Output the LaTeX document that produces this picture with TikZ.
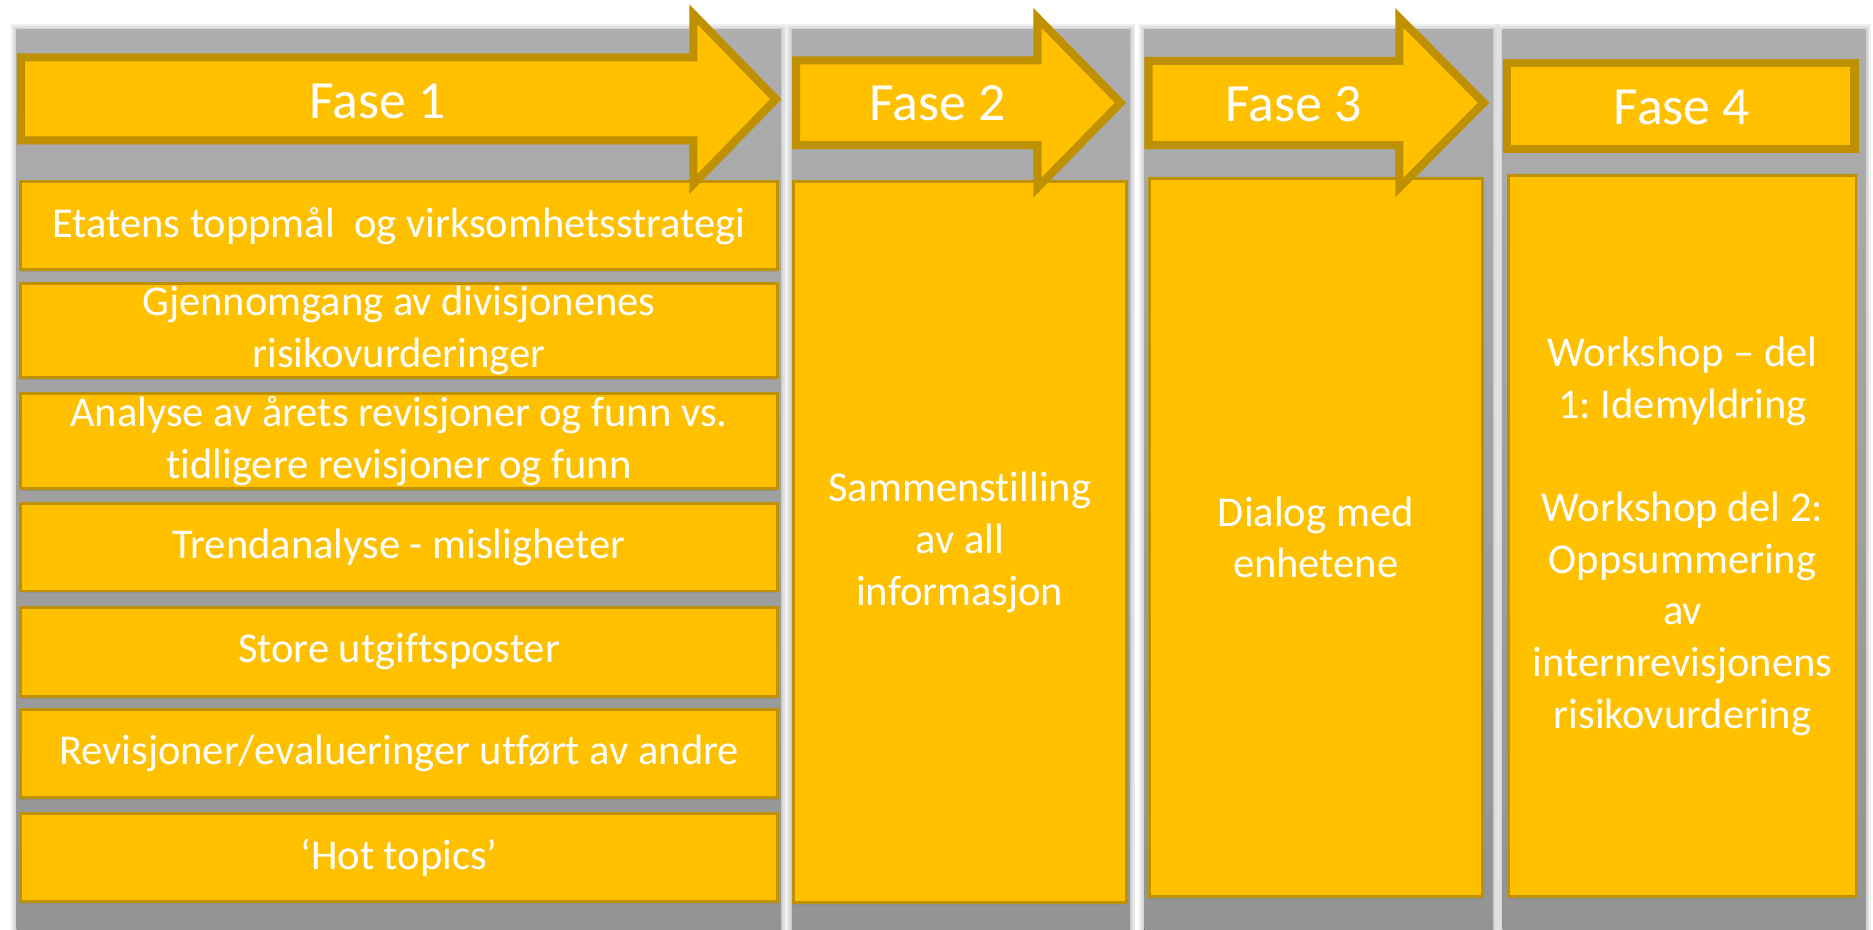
\documentclass[tikz,border=0pt]{standalone}
\usepackage{fontspec}
\setmainfont{Carlito}[Ligatures=NoCommon]
\usetikzlibrary{shadows}
\definecolor{gold}{HTML}{FFC000}
\definecolor{goldline}{HTML}{BF9000}
\definecolor{graytop}{HTML}{AEAEAE}
\definecolor{graybot}{HTML}{939393}
\frenchspacing
\begin{document}
\begin{tikzpicture}[x=0.5pt,y=-0.5pt,
  colbg/.style={top color=graytop,bottom color=graybot,draw=none},
  colshadow/.style={fill=black,fill opacity=0.06,draw=none},
  phasearrow/.style={fill=gold,draw=goldline,line width=3.4pt,line join=miter},
  phaselabel/.style={text=white,font=\fontsize{22.5pt}{27pt}\selectfont,anchor=base,inner sep=0pt},
  itembox/.style={rectangle,fill=gold,draw=goldline,line width=1.2pt,text=white,align=center,
    font=\fontsize{17.8pt}{21.6pt}\selectfont\frenchspacing,inner sep=0pt,
    drop shadow={shadow xshift=0pt,shadow yshift=-1pt,opacity=0.35}},
]
\useasboundingbox (0,0) rectangle (1568,778.5);
\fill[white] (0,0) rectangle (1568,778.5);
% column shadows
\foreach \xa/\xb in {14/654,663/946,958/1250,1258/1562}{
  \foreach \d in {1.5,3,4.5}{
    \fill[colshadow] (\xa-\d,25-\d) rectangle (\xb+\d,780);
  }
}
% gray columns
\fill[colbg] (14,25) rectangle (654,780);
\fill[colbg] (663,25) rectangle (946,780);
\fill[colbg] (958,25) rectangle (1250,780);
\fill[colbg] (1258,25) rectangle (1562,780);

% phase 1 items
\node[itembox,minimum width=316.8pt,minimum height=36.8pt] (b1) at (334,189) {Etatens toppmål~ og virksomhetsstrategi};
\node[itembox,minimum width=316.8pt,minimum height=39.3pt] (b2) at (334,276.5) {Gjennomgang av divisjonenes\\risikovurderinger};
\node[itembox,minimum width=316.8pt,minimum height=39.8pt] (b3) at (334,369) {Analyse av årets revisjoner og funn vs.\\tidligere revisjoner og funn};
\node[itembox,minimum width=316.8pt,minimum height=36.8pt] (b4) at (334,458) {Trendanalyse - misligheter};
\node[itembox,minimum width=316.8pt,minimum height=37.3pt] (b5) at (334,545.5) {Store utgiftsposter};
\node[itembox,minimum width=316.8pt,minimum height=36.8pt] (b6) at (334,631) {Revisjoner/evalueringer utført av andre};
\node[itembox,minimum width=316.8pt,minimum height=36.8pt] (b7) at (334,718) {‘Hot topics’};

% phase 2-4 boxes
\node[itembox,minimum width=139.3pt,minimum height=301.8pt] (c2) at (803.5,454) {Sammenstilling\\av all\\informasjon};
\node[itembox,minimum width=139.3pt,minimum height=300.8pt] (c3) at (1101.5,450) {Dialog med\\enhetene};
\node[itembox,minimum width=145.3pt,minimum height=301.8pt] (c4) at (1408.5,449) {Workshop – del\\1: Idemyldring\\\mbox{}\\Workshop del 2:\\Oppsummering\\av\\internrevisjonens\\risikovurdering};

% phase headers
\draw[phasearrow] (17.5,48) -- (580.5,48) -- (580.5,12) -- (649.5,83) -- (580.5,154) -- (580.5,117.5) -- (17.5,117.5) -- cycle;
\draw[phasearrow] (666.5,50.5) -- (868.5,50.5) -- (868.5,15) -- (938,86) -- (868.5,157) -- (868.5,121.5) -- (666.5,121.5) -- cycle;
\draw[phasearrow] (961.5,51) -- (1171.5,51) -- (1171.5,15) -- (1242,86) -- (1171.5,157) -- (1171.5,121.5) -- (961.5,121.5) -- cycle;
\draw[phasearrow] (1261.5,52.5) rectangle (1552.5,124.5);

\node[phaselabel] (f1) at (316,99.5) {Fase 1};
\node[phaselabel] (f2) at (785,101) {Fase 2};
\node[phaselabel] (f3) at (1083,102) {Fase 3};
\node[phaselabel] (f4) at (1408,104) {Fase 4};
\end{tikzpicture}
\end{document}
